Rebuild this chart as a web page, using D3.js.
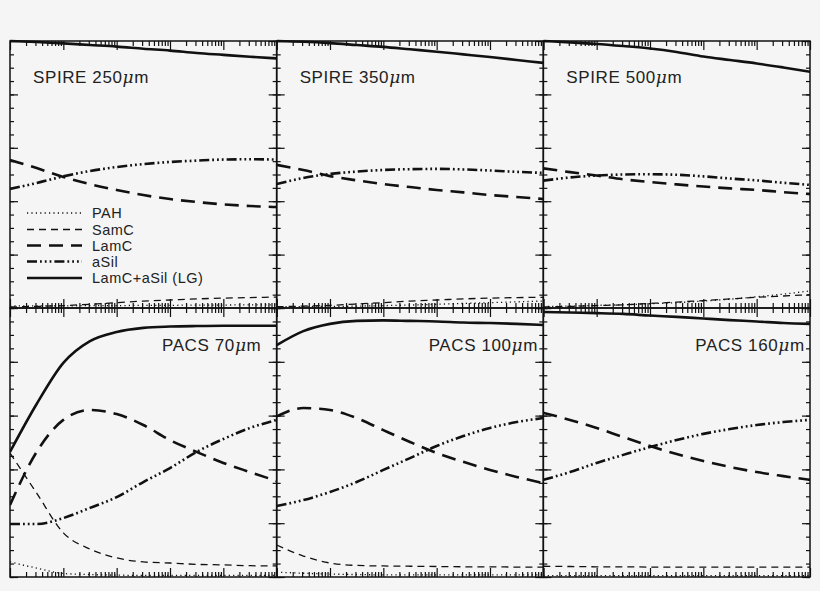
<!DOCTYPE html>
<html><head><meta charset="utf-8">
<script src="https://cdn.jsdelivr.net/npm/d3@7"></script>
<style>
html,body{margin:0;padding:0;background:#f5f5f5;}
svg{display:block;}
</style></head>
<body>
<script>
// ---- data ----
const xGrid = [0.1, 0.316, 1, 3.16, 10, 31.6, 100, 316, 1000, 3162, 10000];
const panelBands = ["SPIRE 250", "SPIRE 350", "SPIRE 500", "PACS 70", "PACS 100", "PACS 160"];
const seriesNames = ["PAH", "SamC", "LamC", "aSil", "LamC+aSil (LG)"];

const pahValues = [
  [0.008, 0.008, 0.008, 0.009, 0.009, 0.010, 0.010, 0.011, 0.011, 0.012, 0.012],
  [0.005, 0.005, 0.006, 0.007, 0.009, 0.011, 0.014, 0.017, 0.020, 0.023, 0.026],
  [0.006, 0.007, 0.010, 0.012, 0.016, 0.020, 0.026, 0.033, 0.042, 0.052, 0.064],
  [0.056, 0.033, 0.013, 0.009, 0.007, 0.006, 0.006, 0.006, 0.006, 0.006, 0.006],
  [0.018, 0.014, 0.011, 0.009, 0.008, 0.008, 0.008, 0.008, 0.008, 0.008, 0.008],
  [0.005, 0.005, 0.005, 0.005, 0.005, 0.005, 0.005, 0.005, 0.005, 0.005, 0.005]
];
const samcValues = [
  [0.004, 0.006, 0.009, 0.014, 0.020, 0.026, 0.030, 0.034, 0.037, 0.039, 0.041],
  [0.005, 0.007, 0.010, 0.015, 0.020, 0.026, 0.030, 0.034, 0.037, 0.039, 0.040],
  [0.004, 0.006, 0.009, 0.012, 0.017, 0.022, 0.028, 0.034, 0.040, 0.045, 0.050],
  [0.461, 0.312, 0.164, 0.104, 0.071, 0.056, 0.052, 0.047, 0.045, 0.042, 0.041],
  [0.119, 0.078, 0.052, 0.043, 0.041, 0.040, 0.039, 0.038, 0.038, 0.037, 0.037],
  [0.040, 0.039, 0.038, 0.038, 0.037, 0.037, 0.037, 0.037, 0.037, 0.037, 0.037]
];
const lamcValues = [
  [0.554, 0.524, 0.491, 0.464, 0.442, 0.423, 0.408, 0.397, 0.388, 0.382, 0.378],
  [0.536, 0.517, 0.494, 0.478, 0.464, 0.453, 0.442, 0.433, 0.423, 0.416, 0.408],
  [0.523, 0.509, 0.496, 0.482, 0.472, 0.463, 0.455, 0.448, 0.442, 0.434, 0.427],
  [0.268, 0.465, 0.584, 0.621, 0.606, 0.565, 0.509, 0.465, 0.424, 0.390, 0.357],
  [0.597, 0.628, 0.621, 0.591, 0.546, 0.502, 0.461, 0.428, 0.398, 0.372, 0.349],
  [0.610, 0.584, 0.554, 0.520, 0.487, 0.457, 0.431, 0.409, 0.390, 0.375, 0.361]
];
const asilValues = [
  [0.446, 0.468, 0.493, 0.513, 0.528, 0.539, 0.547, 0.552, 0.556, 0.557, 0.556],
  [0.464, 0.487, 0.502, 0.511, 0.517, 0.520, 0.521, 0.519, 0.515, 0.510, 0.506],
  [0.477, 0.489, 0.496, 0.500, 0.501, 0.499, 0.493, 0.485, 0.478, 0.469, 0.461],
  [0.197, 0.197, 0.219, 0.257, 0.297, 0.353, 0.405, 0.465, 0.513, 0.554, 0.584],
  [0.264, 0.286, 0.316, 0.353, 0.398, 0.442, 0.487, 0.524, 0.554, 0.576, 0.591],
  [0.361, 0.390, 0.424, 0.454, 0.483, 0.509, 0.532, 0.550, 0.565, 0.576, 0.584]
];
const totalValues = [
  [1.000, 0.996, 0.991, 0.985, 0.979, 0.971, 0.964, 0.955, 0.948, 0.941, 0.935],
  [1.000, 0.997, 0.992, 0.985, 0.978, 0.969, 0.960, 0.950, 0.940, 0.929, 0.918],
  [1.000, 0.995, 0.989, 0.981, 0.972, 0.959, 0.942, 0.929, 0.916, 0.901, 0.885],
  [0.465, 0.643, 0.796, 0.877, 0.911, 0.926, 0.931, 0.933, 0.934, 0.934, 0.934],
  [0.862, 0.914, 0.941, 0.952, 0.954, 0.952, 0.950, 0.946, 0.944, 0.941, 0.937],
  [0.985, 0.983, 0.981, 0.978, 0.972, 0.967, 0.961, 0.955, 0.950, 0.944, 0.941]
];
const xDomain = [0.1, 10000];
const yDomain = [0, 1];
const yMinorTicks = d3.range(0, 1.0001, 0.05);
const yMajorTicks = [0, 0.2, 0.4, 0.6, 0.8, 1.0];

// ---- layout / style ----
const W = 820, H = 591;
const left = 10, right = 810;
const pw = (right - left) / 3;
const rowTop = [41, 308], rowH = [267, 269];
const ink = "#111";
const styles = [
  {w: 1.3, dash: "1.2,3.2"},                 // PAH
  {w: 1.3, dash: "7,5"},                     // SamC
  {w: 2.6, dash: "14,8"},                    // LamC
  {w: 2.6, dash: "10,3,1.8,3,1.8,3,1.8,3"},  // aSil
  {w: 2.6, dash: null}                       // total
];
const allSeries = [pahValues, samcValues, lamcValues, asilValues, totalValues];

const svg = d3.select("body").append("svg").attr("width", W).attr("height", H);
svg.append("rect").attr("width", W).attr("height", H).attr("fill", "#f5f5f5");

panelBands.forEach((band, i) => {
  const r = Math.floor(i / 3), c = i % 3;
  const x0 = left + c * pw, x1 = x0 + pw;
  const y0 = rowTop[r], y1 = y0 + rowH[r];
  const x = d3.scaleLog().domain(xDomain).range([x0, x1]);
  const y = d3.scaleLinear().domain(yDomain).range([y1, y0]);
  const g = svg.append("g");

  const clipId = "clip" + i;
  g.append("clipPath").attr("id", clipId).append("rect")
    .attr("x", x0).attr("y", y0 - 2).attr("width", pw).attr("height", rowH[r] + 2);

  // ticks
  const decades = [0.1, 1, 10, 100, 1000, 10000];
  const minorX = x.ticks().filter(v => !decades.some(d => Math.abs(d - v) / d < 1e-6));
  const axes = [
    [d3.axisTop(x).tickValues(minorX).tickSize(-5), `translate(0,${y0})`],
    [d3.axisTop(x).tickValues(decades).tickSize(-9), `translate(0,${y0})`],
    [d3.axisBottom(x).tickValues(minorX).tickSize(-5), `translate(0,${y1})`],
    [d3.axisBottom(x).tickValues(decades).tickSize(-9), `translate(0,${y1})`],
    [d3.axisLeft(y).tickValues(yMinorTicks).tickSize(-4), `translate(${x0},0)`],
    [d3.axisLeft(y).tickValues(yMajorTicks).tickSize(-8), `translate(${x0},0)`],
    [d3.axisRight(y).tickValues(yMinorTicks).tickSize(-4), `translate(${x1},0)`],
    [d3.axisRight(y).tickValues(yMajorTicks).tickSize(-8), `translate(${x1},0)`]
  ];
  axes.forEach(([ax, tr]) => {
    const a = g.append("g").attr("transform", tr)
      .call(ax.tickFormat("").tickSizeOuter(0));
    a.select(".domain").remove();
    a.selectAll("line").attr("stroke", ink).attr("stroke-width", 1.2);
    a.selectAll("text").remove();
  });

  // curves
  const line = d3.line().x(d => x(d[0])).y(d => y(d[1])).curve(d3.curveMonotoneX);
  const cg = g.append("g").attr("clip-path", `url(#${clipId})`);
  allSeries.forEach((s, k) => {
    const pts = xGrid.map((xv, j) => [xv, s[i][j]]);
    cg.append("path").attr("d", line(pts)).attr("fill", "none")
      .attr("stroke", ink).attr("stroke-width", styles[k].w)
      .attr("stroke-dasharray", styles[k].dash);
  });

  // frame
  g.append("rect").attr("x", x0).attr("y", y0).attr("width", pw).attr("height", rowH[r])
    .attr("fill", "none").attr("stroke", ink).attr("stroke-width", 1.5);

  // label
  const parts = band.split(" ");
  const t = g.append("text")
    .attr("x", r === 0 ? x0 + 23 : x0 + 152)
    .attr("y", r === 0 ? 83 : 351)
    .attr("font-family", "'Liberation Sans', Arial, sans-serif")
    .attr("font-size", 17).attr("fill", "#222").attr("letter-spacing", 0.6);
  t.append("tspan").text(parts[0] + " " + parts[1]);
  t.append("tspan").attr("font-style", "italic").attr("font-family", "'DejaVu Serif', serif").text("μ");
  t.append("tspan").text("m");
});

// legend (panel 1)
const legendY = [213, 229.5, 245.5, 261.5, 278];
const lg = svg.append("g");
seriesNames.forEach((name, k) => {
  lg.append("line").attr("x1", 27).attr("x2", 82)
    .attr("y1", legendY[k]).attr("y2", legendY[k])
    .attr("stroke", ink).attr("stroke-width", styles[k].w)
    .attr("stroke-dasharray", styles[k].dash);
  lg.append("text").attr("x", 92).attr("y", legendY[k] + 5)
    .attr("font-family", "'Liberation Sans', Arial, sans-serif")
    .attr("font-size", 14.5).attr("fill", "#222").attr("letter-spacing", 0.5)
    .text(name);
});
</script>
</body></html>
